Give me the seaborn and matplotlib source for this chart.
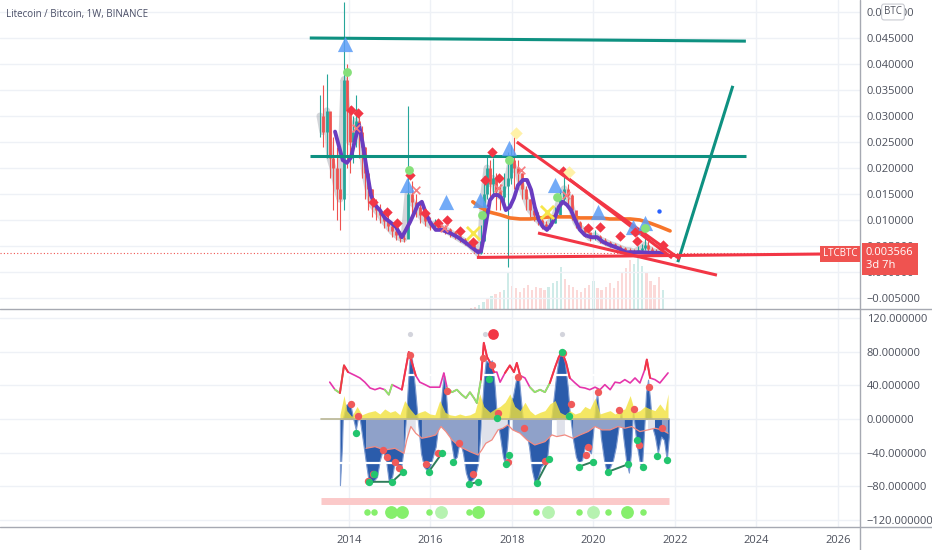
import numpy as np
import matplotlib
matplotlib.use("Agg")
import matplotlib.pyplot as plt
from matplotlib.lines import Line2D
from matplotlib.ticker import FuncFormatter
import seaborn as sns

# ─────────────────────────────────────────────
# Price panel data (decimal year, LTC/BTC)
# ─────────────────────────────────────────────
price_year = [2013.29, 2013.36, 2013.46, 2013.53, 2013.61, 2013.71, 2013.78, 2013.88, 2013.95,
              2014.02, 2014.10, 2014.17, 2014.25, 2014.32, 2014.39, 2014.47, 2014.56, 2014.66, 2014.76, 2014.86, 2014.96,
              2015.06, 2015.15, 2015.25, 2015.35, 2015.45, 2015.55, 2015.64, 2015.74, 2015.87, 2015.99,
              2016.11, 2016.23, 2016.36, 2016.48, 2016.60, 2016.72, 2016.85, 2016.97,
              2017.07, 2017.17, 2017.24, 2017.31, 2017.39, 2017.46, 2017.53, 2017.61, 2017.71, 2017.80, 2017.90, 2017.98,
              2018.05, 2018.15, 2018.25, 2018.34, 2018.44, 2018.54, 2018.64, 2018.74, 2018.83, 2018.93,
              2019.06, 2019.18, 2019.28, 2019.37, 2019.47, 2019.57, 2019.67, 2019.79, 2019.91,
              2020.04, 2020.16, 2020.28, 2020.41, 2020.53, 2020.65, 2020.77, 2020.90, 2020.99,
              2021.09, 2021.19, 2021.26, 2021.34, 2021.44, 2021.53, 2021.63, 2021.73]
price_close = [0.030, 0.027, 0.031, 0.022, 0.020, 0.016, 0.014, 0.037, 0.031,
               0.025, 0.027, 0.029, 0.027, 0.024, 0.019, 0.016, 0.013, 0.012, 0.011, 0.0098, 0.0088,
               0.0078, 0.0072, 0.0066, 0.0064, 0.0150, 0.0135, 0.0125, 0.0110, 0.0098, 0.0090,
               0.0092, 0.0086, 0.0082, 0.0076, 0.0070, 0.0064, 0.0058, 0.0052,
               0.0044, 0.0036, 0.0060, 0.0150, 0.0200, 0.0170, 0.0180, 0.0155, 0.0145, 0.0165, 0.0180, 0.0215,
               0.0200, 0.0190, 0.0160, 0.0140, 0.0120, 0.0110, 0.0100, 0.0092, 0.0088, 0.0095,
               0.0110, 0.0140, 0.0160, 0.0148, 0.0120, 0.0096, 0.0085, 0.0077, 0.0066,
               0.0070, 0.0062, 0.0058, 0.0053, 0.0050, 0.0046, 0.0042, 0.0041, 0.0038,
               0.0042, 0.0046, 0.0052, 0.0045, 0.0040, 0.0038, 0.0036, 0.0036]
price_high = [0.034, 0.036, 0.038, 0.030, 0.026, 0.024, 0.020, 0.052, 0.040,
              0.032, 0.030, 0.034, 0.031, 0.028, 0.024, 0.019, 0.016, 0.014, 0.013, 0.012, 0.011,
              0.0095, 0.0085, 0.0078, 0.0072, 0.0320, 0.0175, 0.0150, 0.0130, 0.0115, 0.0105,
              0.0102, 0.0098, 0.0090, 0.0085, 0.0078, 0.0072, 0.0066, 0.0060,
              0.0052, 0.0044, 0.0090, 0.0185, 0.0225, 0.0215, 0.0220, 0.0190, 0.0170, 0.0190, 0.0230, 0.0245,
              0.0260, 0.0215, 0.0190, 0.0165, 0.0140, 0.0125, 0.0115, 0.0105, 0.0098, 0.0105,
              0.0125, 0.0160, 0.0190, 0.0170, 0.0150, 0.0115, 0.0098, 0.0088, 0.0075,
              0.0080, 0.0072, 0.0066, 0.0060, 0.0056, 0.0052, 0.0048, 0.0046, 0.0044,
              0.0050, 0.0054, 0.0078, 0.0060, 0.0048, 0.0044, 0.0041, 0.0040]
price_low = [0.026, 0.024, 0.022, 0.018, 0.012, 0.010, 0.008, 0.012, 0.020,
             0.019, 0.021, 0.024, 0.022, 0.018, 0.014, 0.012, 0.0105, 0.010, 0.0095, 0.0085, 0.0078,
             0.0068, 0.0062, 0.0058, 0.0057, 0.0065, 0.0110, 0.0105, 0.0095, 0.0088, 0.0080,
             0.0082, 0.0078, 0.0074, 0.0068, 0.0063, 0.0058, 0.0052, 0.0047,
             0.0038, 0.0030, 0.0034, 0.0080, 0.0140, 0.0140, 0.0150, 0.0120, 0.0120, 0.0130, 0.0010, 0.0170,
             0.0160, 0.0160, 0.0140, 0.0120, 0.0105, 0.0098, 0.0090, 0.0082, 0.0078, 0.0082,
             0.0095, 0.0115, 0.0130, 0.0125, 0.0100, 0.0085, 0.0076, 0.0068, 0.0060,
             0.0062, 0.0055, 0.0052, 0.0048, 0.0046, 0.0042, 0.0038, 0.0036, 0.0034,
             0.0036, 0.0040, 0.0042, 0.0038, 0.0035, 0.0034, 0.0032, 0.0033]
last_price = 0.003566

# smoothed moving average (purple)
ma_year = [2013.66, 2013.78, 2013.85, 2013.95,
           2014.05, 2014.15, 2014.25, 2014.34, 2014.44, 2014.54, 2014.64, 2014.76, 2014.88,
           2015.01, 2015.15, 2015.30, 2015.40, 2015.50, 2015.60, 2015.69, 2015.79, 2015.89, 2015.99,
           2016.13, 2016.28, 2016.48, 2016.67, 2016.87,
           2017.07, 2017.17, 2017.24, 2017.31, 2017.39, 2017.46, 2017.56, 2017.66, 2017.75, 2017.85, 2017.95,
           2018.05, 2018.15, 2018.27, 2018.37, 2018.47, 2018.56, 2018.66, 2018.76, 2018.86, 2018.96,
           2019.06, 2019.15, 2019.25, 2019.35, 2019.45, 2019.55, 2019.67, 2019.79, 2019.94,
           2020.09, 2020.23, 2020.40, 2020.60, 2020.80, 2020.99,
           2021.19, 2021.39, 2021.58, 2021.75]
ma_val = [0.0270, 0.0235, 0.0215, 0.0210,
          0.0220, 0.0254, 0.0283, 0.0246, 0.0196, 0.0148, 0.0129, 0.0119, 0.0104,
          0.0096, 0.0087, 0.0067, 0.0081, 0.0096, 0.0113, 0.0129, 0.0135, 0.0113, 0.0096,
          0.0081, 0.0081, 0.0075, 0.0067, 0.0056,
          0.0044, 0.0038, 0.0040, 0.0067, 0.0106, 0.0138, 0.0148, 0.0148, 0.0142, 0.0119, 0.0125,
          0.0142, 0.0167, 0.0177, 0.0177, 0.0158, 0.0125, 0.0100, 0.0087, 0.0081, 0.0090,
          0.0106, 0.0125, 0.0135, 0.0129, 0.0119, 0.0100, 0.0081, 0.0071, 0.0067,
          0.0067, 0.0058, 0.0052, 0.0046, 0.0038, 0.0038,
          0.0038, 0.0037, 0.0037, 0.0035]

# long moving average (orange)
org_year = [2017.04, 2017.21, 2017.46, 2017.71, 2017.95, 2018.20, 2018.44, 2018.69, 2018.93, 2019.18, 2019.42,
            2019.67, 2019.91, 2020.16, 2020.40, 2020.65, 2020.90, 2021.14, 2021.39, 2021.63, 2021.88]
org_val = [0.0135, 0.0125, 0.0115, 0.0110, 0.0104, 0.0102, 0.0102, 0.0104, 0.0106, 0.0106, 0.0106,
           0.0104, 0.0104, 0.0104, 0.0102, 0.0102, 0.0102, 0.0100, 0.0094, 0.0087, 0.0079]

# volume (relative units)
vol_year = [2017.0, 2017.1, 2017.2, 2017.3, 2017.4, 2017.5, 2017.6, 2017.7, 2017.8, 2017.9,
            2018.0, 2018.1, 2018.2, 2018.3, 2018.4, 2018.5, 2018.6, 2018.7, 2018.8, 2018.9,
            2019.0, 2019.1, 2019.2, 2019.3, 2019.4, 2019.5, 2019.6, 2019.7, 2019.8, 2019.9,
            2020.0, 2020.1, 2020.2, 2020.3, 2020.4, 2020.5, 2020.6, 2020.7, 2020.8, 2020.9,
            2021.0, 2021.1, 2021.2, 2021.3, 2021.4, 2021.5, 2021.6, 2021.7]
vol_val = [1, 2, 4, 8, 12, 14, 16, 18, 20, 38,
           25, 22, 18, 22, 26, 20, 24, 22, 20, 24,
           28, 30, 45, 32, 26, 24, 20, 18, 22, 26,
           30, 22, 20, 24, 28, 22, 30, 38, 44, 52,
           48, 55, 46, 40, 30, 26, 34, 20]

# drawn levels and trendlines: [start year, end year], [start price, end price]
teal_top = ([2013.04, 2023.74], [0.0450, 0.0444])
teal_mid = ([2013.04, 2023.74], [0.0223, 0.0223])
teal_up = ([2022.07, 2023.42], [0.0019, 0.0358])
red_support = ([2017.14, 2025.63], [0.0028, 0.00346])
red_res1 = ([2018.12, 2022.12], [0.0250, 0.0025])
red_res2 = ([2019.18, 2021.93], [0.0192, 0.0027])
red_wedge = ([2018.64, 2023.03], [0.0075, -0.0006])

# signal markers on the price panel
tri_year = [2013.90, 2015.42, 2016.38, 2017.21, 2017.93, 2019.06, 2020.11, 2020.97, 2021.26]
tri_val = [0.0438, 0.0167, 0.0135, 0.0138, 0.0238, 0.0167, 0.0115, 0.0087, 0.0094]
dia_year = [2014.05, 2014.22, 2015.50, 2014.59, 2014.93, 2015.18, 2015.86, 2016.18, 2016.40, 2016.72, 2017.04,
            2017.51, 2017.34, 2017.68, 2019.25, 2019.87, 2020.16, 2020.65, 2021.02, 2021.07, 2021.71]
dia_val = [0.0312, 0.0306, 0.0187, 0.0135, 0.0115, 0.0094, 0.0113, 0.0094, 0.0100, 0.0079, 0.0058,
           0.0231, 0.0177, 0.0181, 0.0194, 0.0085, 0.0087, 0.0069, 0.0077, 0.0060, 0.0052]
gdot_year = [2013.95, 2015.47, 2017.93, 2019.10, 2017.26, 2021.26]
gdot_val = [0.0385, 0.0196, 0.0215, 0.0144, 0.0110, 0.0085]
ydia_year = [2018.10, 2019.40]
ydia_val = [0.0267, 0.0192]
yx_year = [2017.04, 2018.86]
yx_val = [0.0075, 0.0115]
px_year = [2014.17, 2015.64, 2016.33, 2017.66, 2018.22, 2019.32]
px_val = [0.0277, 0.0158, 0.0085, 0.0162, 0.0196, 0.0148]
bdot_year = [2021.61]
bdot_val = [0.0117]

# ─────────────────────────────────────────────
# Oscillator panel data
# ─────────────────────────────────────────────
osc_year = [2013.78, 2013.83, 2013.85, 2013.93, 2014.03, 2014.10, 2014.17, 2014.22, 2014.27, 2014.34,
            2014.42, 2014.49, 2014.59, 2014.69, 2014.76, 2014.83, 2014.91, 2014.98, 2015.06, 2015.13,
            2015.20, 2015.28, 2015.35, 2015.40, 2015.45, 2015.50, 2015.55, 2015.62, 2015.69, 2015.77,
            2015.84, 2015.91, 2015.99, 2016.06, 2016.13, 2016.18, 2016.23, 2016.28, 2016.33, 2016.38,
            2016.43, 2016.50, 2016.58, 2016.65, 2016.72, 2016.80, 2016.87, 2016.95, 2017.02, 2017.09,
            2017.17, 2017.22, 2017.26, 2017.31, 2017.36, 2017.44, 2017.51, 2017.58, 2017.63, 2017.71,
            2017.78, 2017.83, 2017.88, 2017.93, 2017.98, 2018.02, 2018.10, 2018.17, 2018.22, 2018.27,
            2018.34, 2018.42, 2018.49, 2018.56, 2018.64, 2018.71, 2018.79, 2018.86, 2018.93, 2019.01,
            2019.08, 2019.15, 2019.23, 2019.30, 2019.37, 2019.42, 2019.50, 2019.57, 2019.64, 2019.72,
            2019.79, 2019.87, 2019.94, 2019.99, 2020.04, 2020.09, 2020.14, 2020.18, 2020.26, 2020.33,
            2020.41, 2020.48, 2020.55, 2020.63, 2020.68, 2020.72, 2020.80, 2020.87, 2020.92, 2020.97,
            2021.02, 2021.07, 2021.14, 2021.19, 2021.24, 2021.29, 2021.34, 2021.39, 2021.44, 2021.51,
            2021.58, 2021.66, 2021.73, 2021.80, 2021.85]
osc_val = [-79, -33, 0, 17, 19, 2, -13, 1, -1, -25,
           -53, -76, -75, -69, -49, -37, -49, -75, -69, -49,
           -57, -59, -33, -1, 43, 80, 70, 38, -1, -41,
           -57, -61, -57, -45, -33, -13, 2, 31, 55, 31,
           -1, -25, -49, -45, -25, -41, -64, -76, -73, -69,
           -53, -21, 11, 47, 70, 67, 70, 38, 2, -21,
           -45, -53, -33, -1, 23, 26, 47, 50, 23, -1,
           -13, -33, -61, -76, -70, -57, -53, -49, -13, 19,
           50, 74, 82, 67, 38, 7, -25, -45, -53, -49,
           -33, -37, -41, -17, 14, 32, 7, -21, -49, -64,
           -57, -49, -33, -5, 11, -17, -49, -64, -41, 11,
           -13, -33, -53, -57, -17, 31, 47, 23, -9, -21,
           -41, -21, -25, -49, -21]

mag_year = [2013.53, 2013.66, 2013.78, 2013.88, 2013.98, 2014.15, 2014.27, 2014.39, 2014.52, 2014.64,
            2014.76, 2014.88, 2014.98, 2015.06, 2015.18, 2015.30, 2015.42, 2015.47, 2015.55, 2015.64,
            2015.74, 2015.87, 2015.99, 2016.11, 2016.23, 2016.33, 2016.41, 2016.53, 2016.65, 2016.77,
            2016.87, 2016.97, 2017.07, 2017.14, 2017.24, 2017.31, 2017.39, 2017.46, 2017.56, 2017.63,
            2017.71, 2017.83, 2017.95, 2018.05, 2018.12, 2018.20, 2018.32, 2018.44, 2018.56, 2018.69,
            2018.81, 2018.93, 2019.06, 2019.15, 2019.23, 2019.33, 2019.42, 2019.55, 2019.67, 2019.79,
            2019.91, 2020.04, 2020.16, 2020.28, 2020.41, 2020.53, 2020.65, 2020.77, 2020.90, 2021.02,
            2021.14, 2021.26, 2021.31, 2021.39, 2021.51, 2021.63, 2021.73, 2021.83]
mag_val = [44, 35, 31, 64, 56, 52, 49, 44, 37, 35,
           37, 35, 29, 41, 38, 35, 67, 80, 67, 52,
           44, 41, 38, 38, 38, 55, 37, 32, 35, 29,
           25, 32, 25, 19, 47, 91, 74, 68, 56, 56,
           44, 55, 64, 56, 67, 52, 49, 38, 32, 35,
           32, 43, 62, 74, 80, 67, 49, 43, 38, 37,
           35, 38, 35, 41, 35, 44, 43, 47, 43, 49,
           43, 59, 71, 49, 47, 43, 49, 55]

sig_year = [2014.42, 2014.64, 2014.88, 2015.13, 2015.35, 2015.42, 2015.52, 2015.64, 2015.79, 2015.99,
            2016.13, 2016.26, 2016.38, 2016.53, 2016.72, 2016.97, 2017.17, 2017.26, 2017.36, 2017.51,
            2017.66, 2017.78, 2017.90, 2018.02, 2018.20, 2018.37, 2018.56, 2018.81, 2018.98, 2019.10,
            2019.30, 2019.50, 2019.67, 2019.87, 2020.04, 2020.21, 2020.41, 2020.60, 2020.77, 2020.94,
            2021.14, 2021.34, 2021.51, 2021.68, 2021.83]
sig_val = [-35, -33, -37, -35, -41, -25, -9, -17, -23, -21,
           -19, -9, -15, -25, -33, -39, -43, -37, -29, -25,
           -13, -11, -7, -13, -17, -25, -31, -27, -19, -21,
           -19, -23, -19, -15, -9, -13, -13, -9, -11, -9,
           -15, -13, -11, -13, -17]
light_zones = [(2015.42, 2015.74), (2017.26, 2017.95), (2019.00, 2019.42), (2020.94, 2021.07), (2021.31, 2021.56)]

yel_year = [2013.78, 2013.88, 2013.95, 2014.07, 2014.20, 2014.32, 2014.47, 2014.64, 2014.76, 2014.88,
            2015.01, 2015.13, 2015.25, 2015.37, 2015.50, 2015.62, 2015.74, 2015.86, 2015.99, 2016.11,
            2016.23, 2016.36, 2016.48, 2016.60, 2016.72, 2016.85, 2016.97, 2017.09, 2017.21, 2017.31,
            2017.46, 2017.58, 2017.71, 2017.83, 2017.95, 2018.07, 2018.20, 2018.32, 2018.44, 2018.56,
            2018.69, 2018.81, 2018.93, 2019.06, 2019.18, 2019.30, 2019.42, 2019.55, 2019.67, 2019.79,
            2019.91, 2020.04, 2020.16, 2020.28, 2020.41, 2020.53, 2020.65, 2020.77, 2020.90, 2021.02,
            2021.14, 2021.26, 2021.39, 2021.51, 2021.63, 2021.75, 2021.83]
yel_val = [5, 28, 10, 3, 15, 5, 8, 10, 6, 12,
           8, 10, 5, 22, 12, 5, 8, 10, 6, 5,
           22, 8, 5, 4, 6, 4, 5, 8, 30, 15,
           8, 12, 15, 20, 30, 15, 10, 20, 10, 5,
           8, 10, 18, 22, 8, 5, 10, 6, 8, 15,
           12, 25, 6, 8, 10, 6, 10, 12, 28, 8,
           10, 15, 12, 10, 18, 10, 30]

red_pt_year = [2014.05, 2014.22, 2014.83, 2014.93, 2015.13, 2015.23, 2014.47, 2014.59, 2015.50, 2016.40,
               2015.89, 2016.18, 2016.70, 2017.04, 2017.29, 2017.51, 2017.66, 2018.29, 2017.90, 2018.15,
               2019.25, 2019.45, 2018.81, 2019.87, 2019.82, 2020.11, 2020.63, 2020.99, 2021.12, 2021.36, 2021.68]
red_pt_val = [18, 4, -37, -45, -51, -58, -74, -66, 76, 33,
              -54, -40, -29, -66, 73, 64, 7, -11, -51, 50,
              79, 18, -50, -33, -43, 32, 11, 12, -31, 38, -11]
grn_pt_year = [2014.17, 2015.33, 2015.06, 2014.49, 2014.61, 2015.96, 2016.28, 2016.55, 2016.94, 2017.17,
               2017.44, 2017.63, 2017.93, 2017.85, 2019.23, 2019.40, 2018.91, 2018.61, 2019.99, 2019.64,
               2020.36, 2020.85, 2021.07, 2021.21, 2021.56, 2021.80]
grn_pt_val = [-17, -63, -75, -75, -66, -63, -41, -51, -78, -75,
              48, 1, -43, -54, 80, 4, -48, -76, -51, -57,
              -63, -54, -25, -57, -44, -49]
div_lines = [([2014.49, 2015.06, 2015.33], [-75, -75, -63]),
             ([2015.96, 2016.28], [-63, -41]),
             ([2016.94, 2017.17], [-78, -75]),
             ([2018.61, 2018.91], [-76, -48]),
             ([2019.64, 2019.99], [-57, -51]),
             ([2020.36, 2020.85], [-63, -54])]

band_span = [2013.31, 2021.85]
band_level = -98
row_year = [2014.44, 2014.61, 2015.03, 2015.30, 2015.96, 2016.26, 2016.94, 2017.17,
            2018.59, 2018.88, 2019.64, 2019.99, 2020.36, 2020.82, 2021.21]
row_strength = [1, 1, 2, 2, 1, 3, 1, 2, 1, 3, 1, 3, 1, 2, 1]
row_level = -111
top_year = [2015.50, 2017.34, 2019.23]
top_red_year = [2017.53]
top_level = 101

# ─────────────────────────────────────────────
# Figure
# ─────────────────────────────────────────────
W, H = 932, 550
TEAL, RED = '#26a69a', '#ef5350'
GRID = '#eef1f6'
sns.set_theme(style="white")
plt.rcParams['font.family'] = ['Open Sans', 'DejaVu Sans']

fig = plt.figure(figsize=(W / 100, H / 100), dpi=100)
fig.patch.set_facecolor('white')
ax = fig.add_axes([0, 1 - 309 / H, 860 / W, 309 / H])
ax2 = fig.add_axes([0, 23 / H, 860 / W, 217 / H])
XLIM = (2005.44, 2026.54)

# volume behind the price panel
axv = ax.twinx()
axv.set_zorder(ax.get_zorder() - 1)
ax.patch.set_visible(False)
yr = np.array(price_year)
close = np.array(price_close)
opens = np.r_[close[0], close[:-1]]
up = close >= opens
vidx = np.clip(np.searchsorted(yr, vol_year), 0, len(yr) - 1)
vcol = [TEAL if up[i] else RED for i in vidx]
axv.bar(vol_year, vol_val, width=0.055, color=vcol, alpha=0.22, linewidth=0)
axv.set_ylim(0, max(vol_val) * 6.0)
axv.set_yticks([])
for s in axv.spines.values():
    s.set_visible(False)

# grey ribbon + candles
sns.lineplot(x=price_year, y=price_close, ax=ax, color='#9598a1', linewidth=5, alpha=0.4, zorder=2)
hi, lo = np.array(price_high), np.array(price_low)
body_lo, body_hi = np.minimum(opens, close), np.maximum(opens, close)
for col, m in ((TEAL, up), (RED, ~up)):
    ax.vlines(yr[m], lo[m], hi[m], color=col, linewidth=0.8, zorder=3)
    ax.vlines(yr[m], body_lo[m], body_hi[m], color=col, linewidth=2.0, zorder=3)

sns.lineplot(x=org_year, y=org_val, ax=ax, color='#f7752a', linewidth=2.6, zorder=4)
sns.lineplot(x=ma_year, y=ma_val, ax=ax, color='#6a3cc0', linewidth=2.8, zorder=4)

ax.axhline(last_price, color=RED, linestyle=(0, (1, 2)), linewidth=0.8, zorder=2)
for xs, ys in (teal_top, teal_mid, teal_up):
    ax.plot(xs, ys, color='#0e9181', linewidth=2.2, solid_capstyle='butt', zorder=5)
for xs, ys in (red_support, red_res1, red_res2, red_wedge):
    ax.plot(xs, ys, color='#f23645', linewidth=2.2, solid_capstyle='butt', zorder=5)

sns.scatterplot(x=tri_year, y=tri_val, ax=ax, marker='^', s=120, color='#5b9cf6', alpha=0.85, linewidth=0, zorder=6)
sns.scatterplot(x=dia_year, y=dia_val, ax=ax, marker='D', s=28, color='#f23645', linewidth=0, zorder=6)
sns.scatterplot(x=gdot_year, y=gdot_val, ax=ax, marker='o', s=40, color='#86e07a', linewidth=0, zorder=6)
sns.scatterplot(x=ydia_year, y=ydia_val, ax=ax, marker='D', s=40, color='#fff1a8', linewidth=0, zorder=6)
sns.scatterplot(x=yx_year, y=yx_val, ax=ax, marker='x', s=90, color='#f7e64a', linewidth=2, zorder=6)
sns.scatterplot(x=px_year, y=px_val, ax=ax, marker='x', s=30, color='#f77c80', linewidth=1.2, zorder=6)
sns.scatterplot(x=bdot_year, y=bdot_val, ax=ax, marker='o', s=10, color='#2962ff', linewidth=0, zorder=6)

ax.set_xlim(*XLIM)
ax.set_ylim((272 - 309) / 5200, 272 / 5200)
ax.set_yticks([0.05, 0.045, 0.04, 0.035, 0.03, 0.025, 0.02, 0.015, 0.01, 0.005, 0.0, -0.005])
ax.yaxis.set_major_formatter(FuncFormatter(lambda v, p: f"{v:.6f}".replace('-', '\u2212')))

# ─── oscillator panel ───
ov = np.array(osc_val, float)
ax2.fill_between(osc_year, 0, ov, color='#2b5cab', linewidth=0.8, edgecolor='#7c9ad0', zorder=2)
sy, sv = np.array(sig_year), np.array(sig_val, float)
in_light = np.zeros(len(sy), bool)
for a, b in light_zones:
    in_light |= (sy >= a) & (sy <= b)
ax2.fill_between(sy, 0, sv, where=~in_light, color='#8fa1c9', linewidth=0, zorder=3)
ax2.fill_between(sy, 0, sv, where=in_light, color='#dfe1ea', linewidth=0, zorder=3)
ax2.fill_between(yel_year, 0, yel_val, color='#f2e23c', alpha=0.8, linewidth=0, zorder=3)
sns.lineplot(x=sig_year, y=sig_val, ax=ax2, color='#f28b82', linewidth=0.9, zorder=4)
ax2.plot(band_span, [0, 0], color='#b9b694', linewidth=1.2, zorder=4)
ax2.plot(band_span, [53, 53], color='white', linewidth=1.6, zorder=4.5)
ax2.plot(band_span, [-53, -53], color='white', linewidth=1.6, zorder=4.5)

mv = np.array(mag_val, float)
sns.lineplot(x=mag_year, y=mag_val, ax=ax2, color='#e535ab', linewidth=1.2, zorder=5)
hot = mv >= 60
hot = hot | np.r_[hot[1:], False] | np.r_[False, hot[:-1]]
cold = mv <= 32
cold = cold | np.r_[cold[1:], False] | np.r_[False, cold[:-1]]
ax2.plot(mag_year, np.where(cold, mv, np.nan), color='#8ee86a', linewidth=1.3, zorder=5.2)
ax2.plot(mag_year, np.where(hot, mv, np.nan), color='#f23645', linewidth=1.4, zorder=5.3)

for xs, ys in div_lines:
    ax2.plot(xs, ys, color='#2f7d5b', linewidth=1.4, zorder=6)
sns.scatterplot(x=red_pt_year, y=red_pt_val, ax=ax2, s=28, color='#f05a5a', linewidth=0, zorder=7)
sns.scatterplot(x=grn_pt_year, y=grn_pt_val, ax=ax2, s=28, color='#22c56e', linewidth=0, zorder=7)

ax2.plot(band_span, [band_level, band_level], color='#fbc9c9', linewidth=5, solid_capstyle='butt', zorder=2)
rs = np.array(row_strength)
sns.scatterplot(x=np.array(row_year)[rs == 1], y=row_level, ax=ax2, s=22, color='#86ef6c', linewidth=0, zorder=7)
sns.scatterplot(x=np.array(row_year)[rs == 2], y=row_level, ax=ax2, s=85, color='#86ef6c', linewidth=0, zorder=7)
sns.scatterplot(x=np.array(row_year)[rs == 3], y=row_level, ax=ax2, s=85, color='#b6f2b0', linewidth=0, zorder=7)
sns.scatterplot(x=top_year, y=top_level, ax=ax2, s=14, color='#d3d4dc', linewidth=0, zorder=7)
sns.scatterplot(x=top_red_year, y=top_level, ax=ax2, s=60, color='#f23645', linewidth=0, zorder=7)

ax2.set_xlim(*XLIM)
ax2.set_ylim((419 - 527) * 1.194, (419 - 310) * 1.194)
ax2.set_yticks([120, 80, 40, 0, -40, -80, -120])
ax2.yaxis.set_major_formatter(FuncFormatter(lambda v, p: f"{v:.6f}".replace('-', '\u2212')))

# ─── shared axis styling ───
for a in (ax, ax2):
    a.set_xticks(range(2014, 2027, 2))
    a.grid(True, color=GRID, linewidth=1, zorder=0)
    a.set_axisbelow(True)
    a.yaxis.tick_right()
    a.tick_params(axis='y', length=0, pad=5, labelsize=8, labelcolor='#4c505c')
    a.set_xlabel('')
    a.set_ylabel('')
    for s in a.spines.values():
        s.set_visible(False)
ax.tick_params(axis='x', length=0, labelbottom=False)
ax2.tick_params(axis='x', length=0, pad=6, labelsize=8, labelcolor='#4c505c')
ax2.set_xticklabels([str(y) for y in range(2014, 2027, 2)])

# panel borders
LINE = '#a6a9b2'
fig.add_artist(Line2D([860 / W, 860 / W], [0, 1], color=LINE, linewidth=1))
fig.add_artist(Line2D([0, 1], [1 - 309 / H, 1 - 309 / H], color=LINE, linewidth=1))
fig.add_artist(Line2D([0, 1], [23 / H, 23 / H], color=LINE, linewidth=1))

# labels
fig.text(6 / W, 1 - 14 / H, "Litecoin / Bitcoin, 1W, BINANCE", fontsize=7, color='#4a4e66', va='center')
fig.text(840 / W, 1 - 254 / H, "LTCBTC", ha='center', va='center', color='white', fontsize=7,
         bbox=dict(boxstyle='square,pad=0.3', fc=RED, ec='none'))
fig.text(866 / W, 1 - 259 / H, f"{last_price:.6f}\n3d 7h", ha='left', va='center', color='white', fontsize=8,
         linespacing=1.25, bbox=dict(boxstyle='square,pad=0.35', fc=RED, ec='none'))
fig.text(893 / W, 1 - 12 / H, "BTC", ha='center', va='center', color='#50535e', fontsize=7,
         bbox=dict(boxstyle='round,pad=0.25', fc='white', ec='#c8cad0', lw=0.8))

fig.savefig('out.png', dpi=100, facecolor='white')
